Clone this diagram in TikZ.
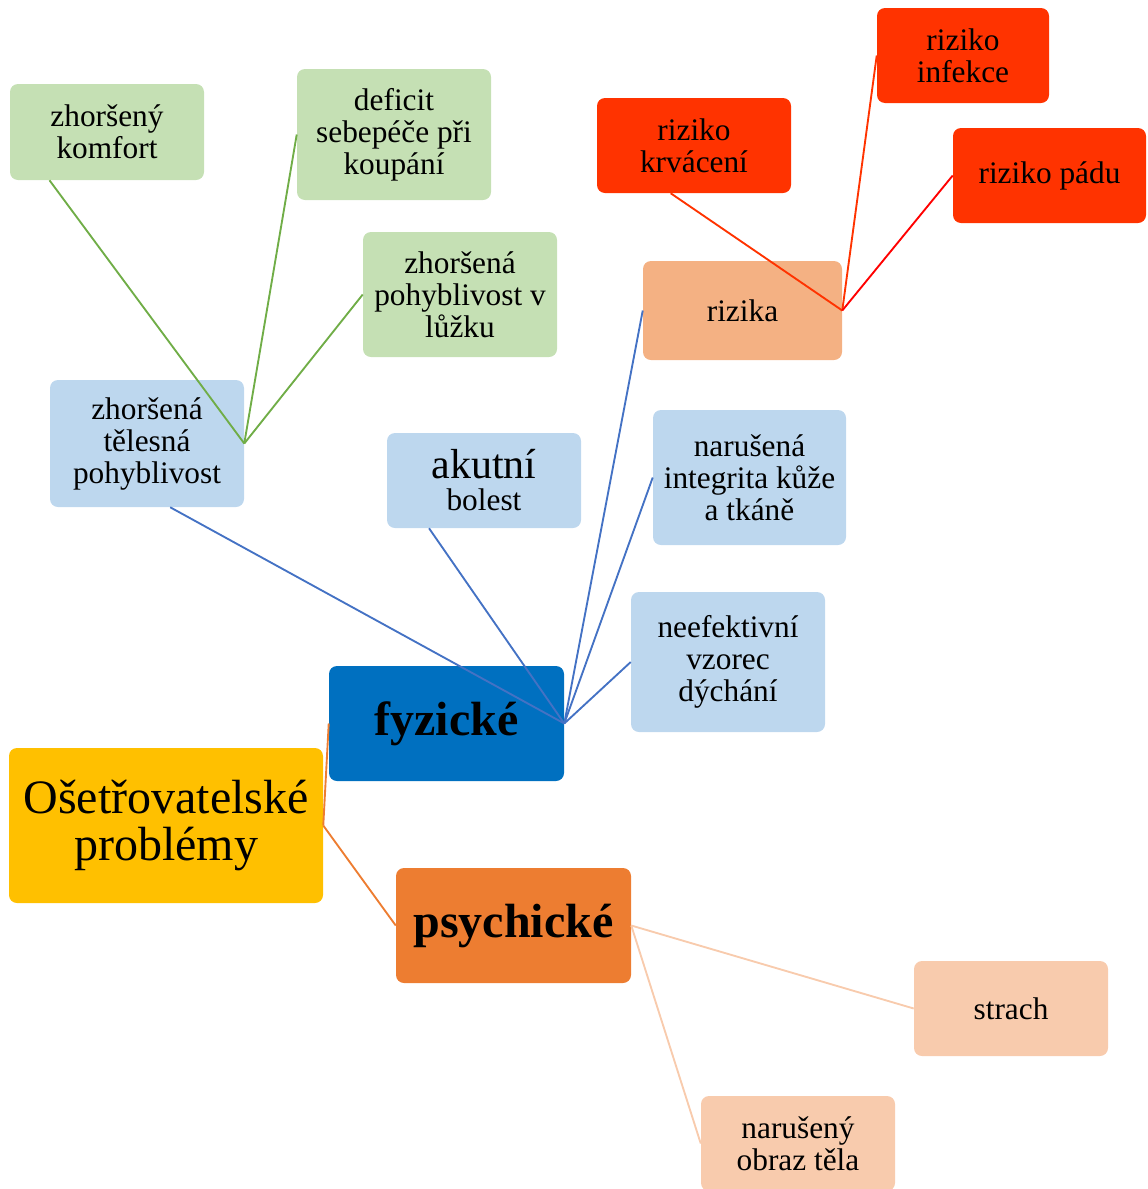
\documentclass[tikz,border=0pt]{standalone}
\usepackage{fontspec}
\setmainfont{Liberation Serif}
\usepackage{xcolor}
\definecolor{zluta}{HTML}{FFC000}
\definecolor{modra}{HTML}{0070C0}
\definecolor{svmodra}{HTML}{BDD7EE}
\definecolor{linmodra}{HTML}{4472C4}
\definecolor{zelena}{HTML}{C5E0B4}
\definecolor{linzelena}{HTML}{70AD47}
\definecolor{oranz}{HTML}{ED7D31}
\definecolor{broskev}{HTML}{F4B183}
\definecolor{svbroskev}{HTML}{F8CBAD}
\definecolor{cervena}{HTML}{FF3300}

\begin{document}
\begin{tikzpicture}[x=0.75pt,y=-0.75pt,
  box/.style={rounded corners=6pt,align=center,inner sep=0pt,
    font=\fontsize{23.5}{24}\selectfont},
  size/.style 2 args={minimum width=#1*0.75pt,minimum height=#2*0.75pt},
  big/.style={font=\fontsize{36}{35}\selectfont},
  link/.style={line width=1.4pt}]
\useasboundingbox (0,0) rectangle (1147,1189);

\node (root) at (166,825.5) [box,big,size={314}{155},fill=zluta] {Ošetřovatelské\\problémy};
\node (fyzicke) at (446.5,723.5) [box,big,size={235}{115},fill=modra] {\bfseries fyzické};
\node (psychicke) at (513.5,925.5) [box,big,size={235}{115},fill=oranz] {\bfseries psychické};

\node (telesna) at (147,443.5) [box,size={194}{127},fill=svmodra] {zhoršená\\tělesná\\pohyblivost};
\node (bolest) at (484,480.5) [box,size={194}{95},fill=svmodra] {{\fontsize{31.5}{32}\selectfont akutní}\\bolest};
\node (rizika) at (742.5,310.5) [box,size={199}{99},fill=broskev] {rizika};
\node (integrita) at (749.5,477.5) [box,size={193}{135},fill=svmodra] {narušená\\integrita kůže\\a tkáně};
\node (dychani) at (728,662) [box,size={194}{140},fill=svmodra] {neefektivní\\vzorec\\dýchání};

\node (komfort) at (107,132) [box,size={194}{96},fill=zelena] {zhoršený\\komfort};
\node (deficit) at (394,134.5) [box,size={194}{131},fill=zelena] {deficit\\sebepéče při\\koupání};
\node (luzko) at (460,294.5) [box,size={194}{125},fill=zelena] {zhoršená\\pohyblivost v\\lůžku};

\node (krvaceni) at (694,145.5) [box,size={194}{95},fill=cervena] {riziko\\krvácení};
\node (infekce) at (963,55.5) [box,size={172}{95},fill=cervena] {riziko\\infekce};
\node (padu) at (1049.5,175.5) [box,size={193}{95},fill=cervena] {riziko pádu};

\node (strach) at (1011,1008.5) [box,size={194}{95},fill=svbroskev] {strach};
\node (obraz) at (798,1143.5) [box,size={194}{95},fill=svbroskev] {narušený\\obraz těla};

\draw[link,oranz] (root.east) -- (fyzicke.west);
\draw[link,oranz] (root.east) -- (psychicke.west);

\draw[link,linmodra] (fyzicke.east) -- (telesna.290);
\draw[link,linmodra] (fyzicke.east) -- (bolest.221);
\draw[link,linmodra] (fyzicke.east) -- (rizika.west);
\draw[link,linmodra] (fyzicke.east) -- (integrita.west);
\draw[link,linmodra] (fyzicke.east) -- (dychani.west);

\draw[link,linzelena] (telesna.east) -- (komfort.220);
\draw[link,linzelena] (telesna.east) -- (deficit.west);
\draw[link,linzelena] (telesna.east) -- (luzko.west);

\draw[link,cervena] (rizika.east) -- (krvaceni.244);
\draw[link,cervena] (rizika.east) -- (infekce.west);
\draw[link,red] (rizika.east) -- (padu.west);

\draw[link,svbroskev] (psychicke.east) -- (strach.west);
\draw[link,svbroskev] (psychicke.east) -- (obraz.west);
\end{tikzpicture}
\end{document}
